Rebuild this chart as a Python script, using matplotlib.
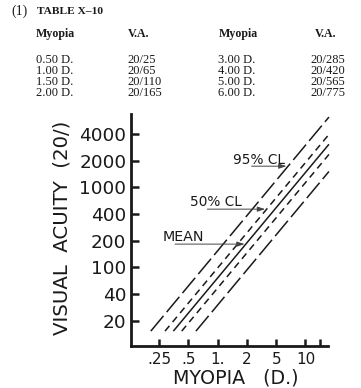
import matplotlib
matplotlib.use("Agg")
import matplotlib.pyplot as plt

# ---- data ----
table_myopia_left = ["0.50 D.", "1.00 D.", "1.50 D.", "2.00 D."]
table_va_left = ["20/25", "20/65", "20/110", "20/165"]
table_myopia_right = ["3.00 D.", "4.00 D.", "5.00 D.", "6.00 D."]
table_va_right = ["20/285", "20/420", "20/565", "20/775"]

x_tick_labels = [".25", ".5", "1.", "2", "5", "10", ""]
x_tick_pos = [0, 1, 2, 3, 4, 5, 5.5]
y_tick_labels = ["20", "40", "100", "200", "400", "1000", "2000", "4000"]
y_tick_pos = [0, 1, 2, 3, 4, 5, 6, 7]

# five parallel lines (in tick-step units): upper 95%, upper 50%, mean, lower 50%, lower 95%
line_names = ["95% upper", "50% upper", "mean", "50% lower", "95% lower"]
line_x_start = [-0.28, 0.205, 0.49, 0.775, 1.26]
line_y_start = [-0.39, -0.39, -0.39, -0.39, -0.39]
line_x_end = [5.80, 5.80, 5.80, 5.80, 5.80]
line_y_end = [7.63, 6.98, 6.61, 6.23, 5.59]

W, H = 361, 388
fig = plt.figure(figsize=(W / 100, H / 100), dpi=100)
fig.patch.set_facecolor("white")

def fx(px):
    return px / W

def fy(py):
    return 1 - py / H

ink = "#1a1a1a"
serif = "Liberation Serif"

# ---- table ----
fig.text(fx(11), fy(15), "(1)", fontsize=10, family=serif, color=ink, ha="left", va="baseline")
fig.text(fx(37), fy(14.5), "TABLE X\u201310", fontsize=8.2, family=serif, weight="bold", color=ink,
         ha="left", va="baseline")
hdr_y = 37
for xpx, t in [(35.7, "Myopia"), (127.7, "V.A."), (218.3, "Myopia"), (315, "V.A.")]:
    fig.text(fx(xpx), fy(hdr_y), t, fontsize=8.6, family=serif, weight="bold", color=ink,
             ha="left", va="baseline")
row_y = [62.7, 73.7, 84.7, 95.7]
cols = [(35.7, table_myopia_left), (127.7, table_va_left),
        (218.3, table_myopia_right), (310, table_va_right)]
for xpx, vals in cols:
    for ypx, t in zip(row_y, vals):
        fig.text(fx(xpx), fy(ypx), t, fontsize=9, family=serif, color=ink,
                 ha="left", va="baseline")

# ---- chart ----
ax_left, ax_right, ax_bottom, ax_top = 130.5, 328, 346, 114
ax = fig.add_axes([fx(ax_left), fy(ax_bottom), (ax_right - ax_left) / W, (ax_bottom - ax_top) / H])
ax.set_facecolor("none")
ax.set_xlim(-0.973, 5.768)
ax.set_ylim(-0.948, 7.745)

for s in ["top", "right"]:
    ax.spines[s].set_visible(False)
for s in ["left", "bottom"]:
    ax.spines[s].set_linewidth(2.0)
    ax.spines[s].set_color(ink)

sans = "DejaVu Sans"
ax.set_xticks(x_tick_pos)
ax.set_xticklabels(x_tick_labels, fontsize=11, family=sans, color=ink)
ax.set_yticks(y_tick_pos)
ax.set_yticklabels(y_tick_labels, fontsize=13.3, family=sans, color=ink)
ax.tick_params(axis="x", direction="in", length=5, width=1.8, pad=4, colors=ink)
ax.tick_params(axis="y", direction="in", length=5.5, width=1.8, pad=3, colors=ink)

styles = [(0, (13, 3.2)), (0, (4.5, 3.2)), "-", (0, (4.5, 3.2)), (0, (13, 3.2))]
for xs, ys, xe, ye, ls in zip(line_x_start, line_y_start, line_x_end, line_y_end, styles):
    ax.plot([xs, xe], [ys, ye], color=ink, lw=1.1, linestyle=ls, clip_on=False,
            solid_capstyle="butt", dash_capstyle="butt")

# annotations
arrow_kw = dict(arrowstyle="-|>,head_length=0.45,head_width=0.15", color="#444444", lw=0.7,
                shrinkA=0, shrinkB=0)
ax.annotate("", xy=(4.35, 5.79), xytext=(3.16, 5.79), arrowprops=arrow_kw)
ax.annotate("", xy=(3.62, 4.18), xytext=(1.65, 4.18), arrowprops=arrow_kw)
ax.annotate("", xy=(2.92, 2.87), xytext=(0.546, 2.87), arrowprops=arrow_kw)
ax.text(2.535, 5.89, "95% CL", fontsize=9.8, family=sans, color=ink, ha="left", va="baseline")
ax.text(1.058, 4.31, "50% CL", fontsize=9.8, family=sans, color=ink, ha="left", va="baseline")
ax.text(0.113, 3.00, "MEAN", fontsize=10.3, family=sans, color=ink, ha="left", va="baseline")

# axis labels
fig.text(fx(236), fy(378), "MYOPIA   (D.)", fontsize=13.7, family=sans, color=ink,
         ha="center", va="center")
fig.text(fx(61.7), fy(228), "VISUAL  ACUITY  (20/)", fontsize=14.2, family=sans, color=ink,
         ha="center", va="center", rotation=90)

fig.savefig("out.png", dpi=100, facecolor="white")
